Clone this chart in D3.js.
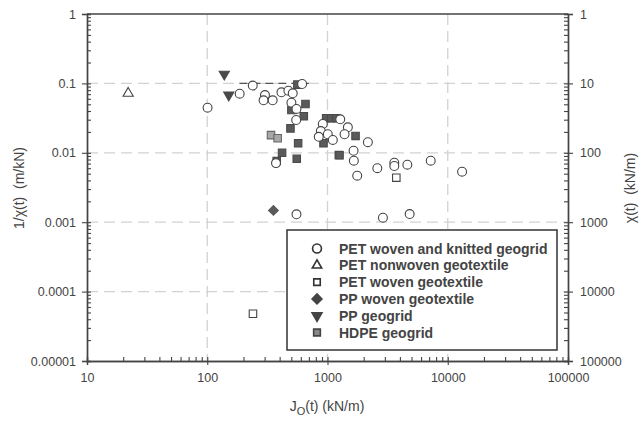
<!DOCTYPE html>
<html>
<head>
<meta charset="utf-8">
<script src="https://cdn.jsdelivr.net/npm/d3@7"></script>
<style>
  body { margin: 0; background: white; }
  text { font-family: "Liberation Sans", Arial, sans-serif; fill: #444; }
</style>
</head>
<body>
<div id="chart"></div>
<script>
// Jo(t) vs 1/chi(t) data
const petKnitted = [
  [100.6, 0.0447], [186, 0.071], [239, 0.093], [302, 0.068], [294, 0.057],
  [350, 0.057], [414, 0.0744], [473, 0.0785], [514, 0.072], [615, 0.098],
  [501, 0.0527], [552, 0.0428], [549, 0.0297], [373, 0.0071], [1276, 0.0304],
  [914, 0.026], [880, 0.0206], [846, 0.017], [1006, 0.0185], [1107, 0.0153],
  [1477, 0.0233], [1386, 0.0185], [2166, 0.0142], [1647, 0.0107], [1656, 0.0077],
  [1767, 0.00468], [2596, 0.006], [3594, 0.0072], [3594, 0.00645], [4613, 0.00674],
  [7216, 0.0077], [13160, 0.00534], [552, 0.0013], [2890, 0.00116], [4822, 0.00131]
]
const petNonwoven = [[22, 0.072]]
const petWoven = [[240, 0.000048], [3735, 0.00438]]
const ppWoven = [[355, 0.00148]]
const ppGeogrid = [[138.6, 0.136], [151, 0.068]]
const hdpeGeogrid = [
  [562, 0.096], [501, 0.0414], [656, 0.0505], [635, 0.0336], [492, 0.0225],
  [570, 0.0137], [419, 0.01], [555, 0.0082], [378, 0.0076], [975, 0.0314],
  [1075, 0.0314], [1182, 0.0314], [926, 0.0137], [1242, 0.0093], [1711, 0.0175],
  [1259, 0.0092]
]
const hdpeLight = [[339, 0.018], [385, 0.0162]]
const refLine = [[185, 0.1], [700, 0.1]]

const xTicks = [10, 100, 1000, 10000, 100000]
const xTickLabels = ["10", "100", "1000", "10000", "100000"]
const yTicks = [1, 0.1, 0.01, 0.001, 0.0001, 0.00001]
const yTickLabels = ["1", "0.1", "0.01", "0.001", "0.0001", "0.00001"]
const yRightTickLabels = ["1", "10", "100", "1000", "10000", "100000"]
const legendNames = ["PET woven and knitted geogrid", "PET nonwoven geotextile",
  "PET woven geotextile", "PP woven geotextile", "PP geogrid", "HDPE geogrid"]

const width = 641, height = 422
const plot_left = 87, plot_right = 568, plot_top = 14, plot_bottom = 361
const axisColor = "#444"

const svg = d3.select("#chart").append("svg")
  .attr("width", width)
  .attr("height", height)
  .style("background-color", "white")

const x = d3.scaleLog().domain([10, 100000]).range([plot_left, plot_right])
const y = d3.scaleLog().domain([0.00001, 1]).range([plot_bottom, plot_top])

// minor ticks 1..9 of every decade
function minors(lo, hi) {
  let out = []
  for (let p = lo; p < hi; p++) {
    for (let m = 1; m < 10; m++) out.push(m * Math.pow(10, p))
  }
  out.push(Math.pow(10, hi))
  return out
}
const xAll = minors(1, 5)
const yAll = minors(-5, 0)

// grid lines
const grid = svg.append("g")
  .attr("stroke", "#d2d2d2")
  .attr("stroke-width", 1.3)
  .attr("stroke-dasharray", "11,6")
grid.selectAll(".gx").data(xTicks.slice(1, -1)).join("line")
  .attr("x1", d => x(d)).attr("x2", d => x(d))
  .attr("y1", plot_top).attr("y2", plot_bottom)
grid.selectAll(".gy").data(yTicks.slice(1, -1)).join("line")
  .attr("x1", plot_left).attr("x2", plot_right)
  .attr("y1", d => y(d)).attr("y2", d => y(d))

// dark dashed segment at 0.1
svg.append("path")
  .datum(refLine)
  .attr("d", d3.line().x(d => x(d[0])).y(d => y(d[1])))
  .attr("stroke", "#555")
  .attr("stroke-width", 1.2)
  .attr("stroke-dasharray", "8,5")
  .attr("fill", "none")

// axes
function styleAxis(g) {
  g.select(".domain").attr("stroke", axisColor).attr("stroke-width", 1.4)
  g.selectAll(".tick line").attr("stroke", axisColor).attr("stroke-width", 1.1)
  g.selectAll(".tick text")
    .style("font-family", "'Liberation Sans', Arial, sans-serif")
    .style("font-size", "12.5px")
    .attr("fill", "#444")
}

// bottom
svg.append("g").attr("transform", `translate(0,${plot_bottom})`)
  .call(d3.axisBottom(x).tickValues(xAll).tickSize(-4).tickFormat(""))
  .call(styleAxis)
svg.append("g").attr("transform", `translate(0,${plot_bottom})`)
  .call(d3.axisBottom(x).tickValues(xTicks).tickSize(4).tickPadding(8)
    .tickFormat((d, i) => xTickLabels[i]))
  .call(styleAxis)

// left
svg.append("g").attr("transform", `translate(${plot_left},0)`)
  .call(d3.axisLeft(y).tickValues(yAll).tickSize(-4).tickFormat(""))
  .call(styleAxis)
svg.append("g").attr("transform", `translate(${plot_left},0)`)
  .call(d3.axisLeft(y).tickValues(yTicks).tickSize(5).tickPadding(6)
    .tickFormat((d, i) => yTickLabels[i]))
  .call(styleAxis)

// right (chi = 1 / (1/chi))
svg.append("g").attr("transform", `translate(${plot_right},0)`)
  .call(d3.axisRight(y).tickValues(yAll).tickSize(-4).tickFormat(""))
  .call(styleAxis)
svg.append("g").attr("transform", `translate(${plot_right},0)`)
  .call(d3.axisRight(y).tickValues(yTicks).tickSize(5).tickPadding(7)
    .tickFormat((d, i) => yRightTickLabels[i]))
  .call(styleAxis)

// top border
svg.append("line")
  .attr("x1", plot_left).attr("x2", plot_right)
  .attr("y1", plot_top).attr("y2", plot_top)
  .attr("stroke", axisColor).attr("stroke-width", 1.4)

// axis titles
const xt = svg.append("text")
  .attr("x", 327).attr("y", 411)
  .attr("text-anchor", "middle")
  .style("font-size", "14px")
xt.append("tspan").text("J")
xt.append("tspan").text("O").attr("dy", 4).style("font-size", "11px")
xt.append("tspan").text("(t) (kN/m)").attr("dy", -4)

svg.append("text")
  .attr("transform", "translate(24,188) rotate(-90)")
  .attr("text-anchor", "middle")
  .style("font-size", "14px")
  .text("1/χ(t)\u00a0\u00a0(m/kN)")

svg.append("text")
  .attr("transform", "translate(635,188) rotate(-90)")
  .attr("text-anchor", "middle")
  .style("font-size", "14px")
  .text("χ(t)\u00a0\u00a0(kN/m)")

// markers
const sym = (type, size) => d3.symbol().type(type).size(size)()

function drawSeries(data, shape, fill, stroke, rot) {
  svg.append("g").selectAll("path").data(data).join("path")
    .attr("transform", d => `translate(${x(d[0])},${y(d[1])}) rotate(${rot || 0})`)
    .attr("d", shape)
    .attr("fill", fill)
    .attr("stroke", stroke)
    .attr("stroke-width", 1.1)
}

const circleShape = sym(d3.symbolCircle, 62)
const triShape = sym(d3.symbolTriangle, 45)
const squareShape = sym(d3.symbolSquare, 56)
const diamondShape = sym(d3.symbolSquare, 48)

drawSeries(hdpeGeogrid, squareShape, "#5a5a5a", "#4a4a4a")
drawSeries(hdpeLight, squareShape, "#a8a8a8", "#666")
drawSeries(petKnitted, circleShape, "white", "#444")
drawSeries(petNonwoven, triShape, "white", "#444")
drawSeries(petWoven, squareShape, "white", "#444")
drawSeries(ppWoven, diamondShape, "#5a5a5a", "#5a5a5a", 45)
drawSeries(ppGeogrid, triShape, "#4a4a4a", "#4a4a4a", 180)

// legend
const legend_x = 287
const legend_y = 230
const legend_w = 270
const legend_h = 120
const row_h = 16.8

svg.append("rect")
  .attr("x", legend_x).attr("y", legend_y)
  .attr("width", legend_w).attr("height", legend_h)
  .attr("fill", "white")
  .attr("stroke", "#333")
  .attr("stroke-width", 1.5)

const legendSymbols = [
  [circleShape, "white", "#333", 0],
  [sym(d3.symbolTriangle, 38), "white", "#333", 0],
  [sym(d3.symbolSquare, 42), "white", "#333", 0],
  [sym(d3.symbolSquare, 48), "#444", "#444", 45],
  [sym(d3.symbolTriangle, 42), "#444", "#444", 180],
  [sym(d3.symbolSquare, 45), "#888", "#444", 0]
]

legendNames.forEach((name, i) => {
  const cy = legend_y + 18.5 + i * row_h
  svg.append("path")
    .attr("transform", `translate(${legend_x + 30},${cy}) rotate(${legendSymbols[i][3]})`)
    .attr("d", legendSymbols[i][0])
    .attr("fill", legendSymbols[i][1])
    .attr("stroke", legendSymbols[i][2])
    .attr("stroke-width", 1.6)
  svg.append("text")
    .attr("x", legend_x + 52)
    .attr("y", cy)
    .attr("dy", "0.36em")
    .style("font-size", "14px")
    .style("font-weight", "bold")
    .attr("fill", "#444")
    .text(name)
})
</script>
</body>
</html>
